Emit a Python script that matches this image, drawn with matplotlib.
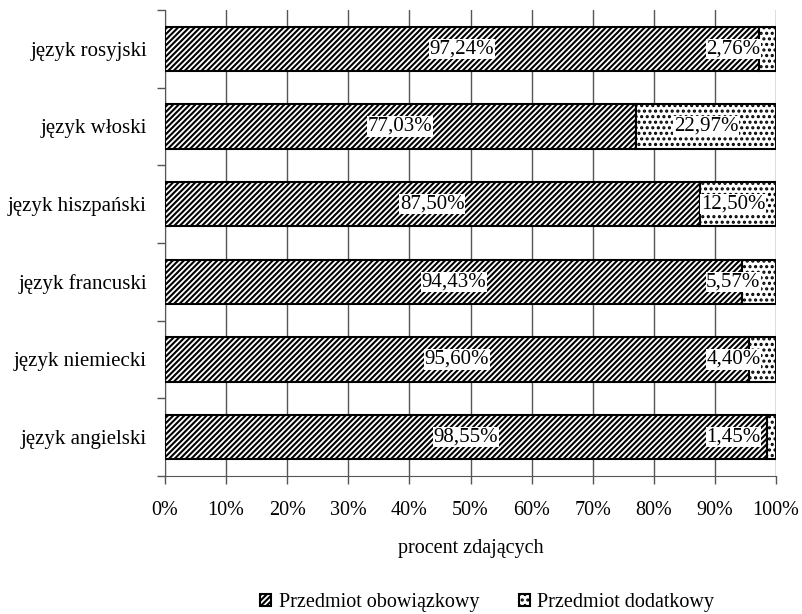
import numpy as np
import matplotlib
matplotlib.use('Agg')
import matplotlib.pyplot as plt
from matplotlib.patches import Patch

plt.rcParams['font.family'] = ['Liberation Serif', 'DejaVu Serif']
plt.rcParams['hatch.linewidth'] = 1.5

jezyki = ['język angielski', 'język niemiecki', 'język francuski',
          'język hiszpański', 'język włoski', 'język rosyjski']
obowiazkowy = [98.55, 95.60, 94.43, 87.50, 77.03, 97.24]
dodatkowy = [1.45, 4.40, 5.57, 12.50, 22.97, 2.76]

fig = plt.figure(figsize=(8.03, 6.14), dpi=100)
ax = fig.add_axes([0.2055, 0.2248, 0.761, 0.759])

y = np.arange(len(jezyki))
b1 = ax.barh(y, obowiazkowy, height=0.57, color='white', edgecolor='black',
             hatch='//////', linewidth=1.5, zorder=3)
b2 = ax.barh(y, dodatkowy, left=obowiazkowy, height=0.57, color='white',
             edgecolor='black', hatch='...', linewidth=1.5, zorder=3)

box = dict(facecolor='white', edgecolor='none', pad=0.5)
for i in range(len(jezyki)):
    ax.text(obowiazkowy[i] / 2, y[i], ('%.2f%%' % obowiazkowy[i]).replace('.', ','),
            ha='center', va='center', fontsize=15, bbox=box, zorder=5)
    # etykieta dodatkowego: srodek odcinka, ale nie za blisko krawedzi
    xc = min(obowiazkowy[i] + dodatkowy[i] / 2, 93)
    ax.text(xc, y[i], ('%.2f%%' % dodatkowy[i]).replace('.', ','),
            ha='center', va='center', fontsize=15, bbox=box, zorder=5)

ax.set_xlim(0, 100)
ax.set_ylim(-0.5, len(jezyki) - 0.5)
ax.set_xticks(np.arange(0, 101, 10))
ax.set_xticklabels(['%d%%' % v for v in range(0, 101, 10)], fontsize=14.5)
ax.xaxis.grid(True, color='#555555', linewidth=1.0, zorder=0)
ax.set_axisbelow(True)
ax.set_yticks(y)
ax.set_yticklabels(jezyki, fontsize=15)
ax.set_yticks(np.arange(-0.5, len(jezyki), 1), minor=True)
ax.tick_params(axis='y', which='major', length=0, pad=13)
ax.tick_params(axis='y', which='minor', length=6, width=1, color='#555555')
ax.tick_params(axis='x', length=6, width=1, pad=12, color='#555555')
for s in ['top', 'right']:
    ax.spines[s].set_visible(False)
ax.spines['left'].set_color('#555555')
ax.spines['bottom'].set_color('#555555')
ax.set_xlabel('procent zdających', fontsize=14.5, labelpad=14)

handles = [Patch(facecolor='white', edgecolor='black', hatch='//////', linewidth=1.5),
           Patch(facecolor='white', edgecolor='black', hatch='...', linewidth=1.5)]
fig.legend(handles, ['Przedmiot obowiązkowy', 'Przedmiot dodatkowy'],
           loc='center', bbox_to_anchor=(0.607, 0.018), ncol=2, frameon=False,
           fontsize=14.5, handlelength=0.55, handleheight=0.55, handletextpad=0.35,
           columnspacing=2.0)

fig.savefig('out.png', dpi=100)
